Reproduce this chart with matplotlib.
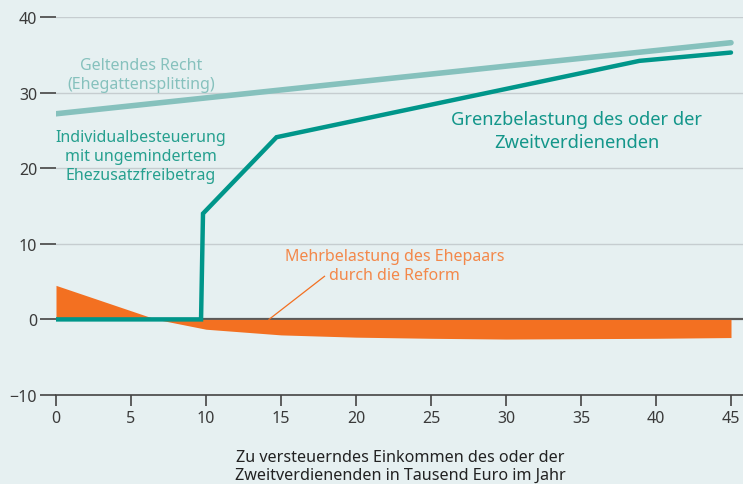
import matplotlib
matplotlib.use("Agg")
import matplotlib.pyplot as plt
import numpy as np

plt.rcParams['font.family'] = ['Noto Sans', 'DejaVu Sans']

# Data
current_x = [0, 10, 20, 30, 45]
current_y = [27.2, 29.3, 31.4, 33.5, 36.6]

indiv_x = [0, 9.67, 9.8, 14.7, 38.9, 45]
indiv_y = [0, 0, 14.0, 24.1, 34.2, 35.3]

burden_x = [0, 6.7, 10, 15, 20, 25, 30, 35, 40, 45]
burden_y = [4.5, 0, -1.3, -2.05, -2.35, -2.5, -2.6, -2.55, -2.5, -2.4]

xticks = [0, 5, 10, 15, 20, 25, 30, 35, 40, 45]
yticks = [-10, 0, 10, 20, 30, 40]

bg = '#e6f0f1'
dark_teal = '#00968a'
light_teal = '#86c1bd'
orange = '#f37021'
txt = '#3a3a3a'

fig = plt.figure(figsize=(7.43, 4.85), dpi=100, facecolor=bg)
ax = fig.add_axes([56/743, 1-396/485, 1-56/743, 378/485])
ax.set_facecolor(bg)
ax.set_xlim(0, (743-56)/15)
ax.set_ylim(-10, 40)

for y in [10, 20, 30, 40]:
    ax.axhline(y, color='#c6cdd0', lw=1.0, zorder=1)
ax.axhline(0, color='#5a5a5a', lw=1.6, zorder=2)

ax.fill_between(burden_x, burden_y, 0, color=orange, lw=0, zorder=3)
ax.plot(current_x, current_y, color=light_teal, lw=4.0, solid_capstyle='round', zorder=4)
ax.plot(indiv_x, indiv_y, color=dark_teal, lw=3.2, solid_capstyle='round',
        solid_joinstyle='miter', zorder=5)

for s in ['top', 'right', 'left']:
    ax.spines[s].set_visible(False)
ax.spines['bottom'].set_color('#444444')
ax.spines['bottom'].set_linewidth(1.2)

ax.set_xticks(xticks)
ax.set_yticks(yticks)
ax.set_yticklabels(['\u221210', '0', '10', '20', '30', '40'])
ax.tick_params(axis='x', direction='out', length=8, width=1.2, color='#444444',
               labelsize=11.5, labelcolor=txt, pad=3)
ax.tick_params(axis='y', direction='out', length=11.5, width=1.2, color='#444444',
               labelsize=11.5, labelcolor=txt, pad=2)

ax.text(5.67, 32.4, 'Geltendes Recht\n(Ehegattensplitting)', color=light_teal,
        fontsize=11.5, ha='center', va='center', linespacing=1.2)
ax.text(5.67, 21.6, 'Individualbesteuerung\nmit ungemindertem\nEhezusatzfreibetrag',
        color='#26a08f', fontsize=11.5, ha='center', va='center', linespacing=1.25)
ax.text(34.7, 25.0, 'Grenzbelastung des oder der\nZweitverdienenden', color='#13968a',
        fontsize=13.2, ha='center', va='center', linespacing=1.3)
ax.text(22.57, 7.1, 'Mehrbelastung des Ehepaars\ndurch die Reform', color='#f3884a',
        fontsize=11.5, ha='center', va='center', linespacing=1.25)
ax.plot([14.2, 17.9], [0, 5.7], color=orange, lw=0.9, zorder=3)

ax.set_xlabel('Zu versteuerndes Einkommen des oder der\nZweitverdienenden in Tausend Euro im Jahr',
              fontsize=11.6, color='#222222', linespacing=1.2)
ax.xaxis.set_label_coords((400-56)/687, -0.142)
ax.xaxis.label.set_va('top')

fig.savefig('out.png', dpi=100, facecolor=bg)
